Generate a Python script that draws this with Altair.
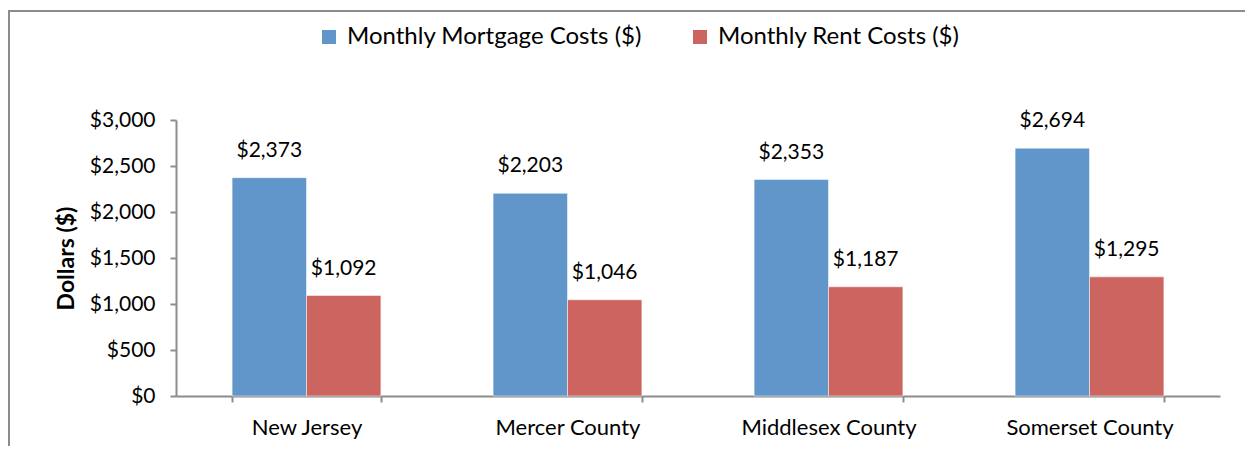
import altair as alt
import pandas as pd

regions = ["New Jersey", "Mercer County", "Middlesex County", "Somerset County"]
series = ["Monthly Mortgage Costs ($)", "Monthly Rent Costs ($)"]
mortgage = [2373, 2203, 2353, 2694]
rent = [1092, 1046, 1187, 1295]
colors = ["#6096CA", "#CC6560"]

rows = []
for r, m, n in zip(regions, mortgage, rent):
    rows.append({"Region": r, "Series": series[0], "Value": m})
    rows.append({"Region": r, "Series": series[1], "Value": n})
df = pd.DataFrame(rows)

FONT = "Lato"
AXIS_COLOR = "#8C8C8C"

x_enc = alt.X(
    "Region:N",
    sort=regions,
    scale=alt.Scale(paddingInner=0.43, paddingOuter=0.215),
    axis=alt.Axis(
        title=None, labelAngle=0, tickBand="extent", tickSize=6,
        labelPadding=15, labelFontSize=22, labelColor="#000000",
        domainColor=AXIS_COLOR, tickColor=AXIS_COLOR, domainWidth=2, tickWidth=2,
    ),
)
xo_enc = alt.XOffset("Series:N", sort=series, scale=alt.Scale(paddingInner=0, paddingOuter=0))
y_enc = alt.Y(
    "Value:Q",
    scale=alt.Scale(domain=[0, 3000], nice=False),
    axis=alt.Axis(
        title="Dollars ($)", values=[0, 500, 1000, 1500, 2000, 2500, 3000],
        format="$,.0f", grid=False, tickSize=6, labelPadding=15,
        labelFontSize=21, labelColor="#000000", titleFontSize=23,
        titleFontWeight="bold", titleColor="#000000", titlePadding=11,
        domainColor=AXIS_COLOR, tickColor=AXIS_COLOR, domainWidth=2, tickWidth=2,
    ),
)

bars = alt.Chart(df).mark_bar(stroke="white", strokeWidth=0.5).encode(
    x=x_enc,
    xOffset=xo_enc,
    y=y_enc,
    color=alt.Color(
        "Series:N", sort=series,
        scale=alt.Scale(domain=series, range=colors),
        legend=alt.Legend(
            title=None, orient="none", direction="horizontal",
            legendX=141, legendY=-95, symbolType="square", symbolSize=196,
            symbolStrokeWidth=0, labelFontSize=24, labelColor="#000000",
            columnPadding=46, labelOffset=6, labelLimit=400,
        ),
    ),
)

labels = alt.Chart(df).mark_text(
    baseline="bottom", dy=-17, fontSize=21, font=FONT, color="#000000"
).encode(
    x=alt.X("Region:N", sort=regions),
    xOffset=alt.XOffset("Series:N", sort=series),
    y="Value:Q",
    text=alt.Text("Value:Q", format="$,.0f"),
)

frame = alt.Chart(pd.DataFrame({"k": [0]})).mark_rect(
    fill=None, stroke=AXIS_COLOR, strokeWidth=2, clip=False
).encode(
    x=alt.value(-167), x2=alt.value(1100),
    y=alt.value(-109), y2=alt.value(400),
)

chart = alt.layer(frame, bars, labels).properties(
    width=1044, height=276,
    autosize=alt.AutoSizeParams(type="none"),
    padding={"left": 168, "top": 112, "right": 25, "bottom": 50},
).configure(font=FONT).configure_view(stroke=None)

chart.save("out.html", embed_options={"renderer": "svg", "actions": False})
